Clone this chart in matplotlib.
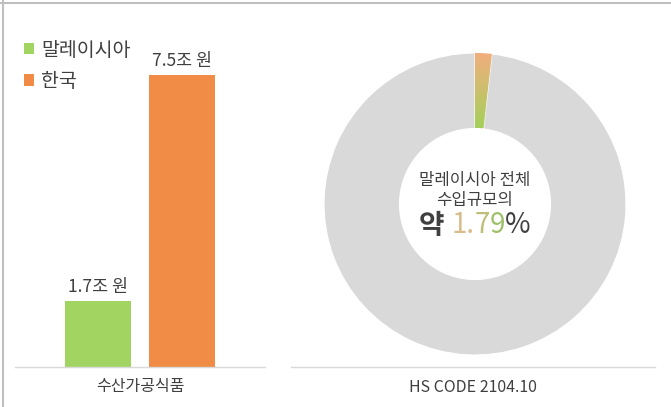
import numpy as np
import matplotlib.pyplot as plt
from matplotlib.colors import LinearSegmentedColormap
from matplotlib.lines import Line2D

plt.rcParams['font.family'] = ['Noto Sans CJK KR', 'DejaVu Sans']

# ---- data ----
series = ['말레이시아', '한국']
category = '수산가공식품'
values = [1.7, 7.5]            # 조 원
value_labels = ['1.7조 원', '7.5조 원']
share = 1.79                    # % of malaysia total imports
donut_label = 'HS CODE 2104.10'

green = '#A2D462'
orange = '#F08C45'
grey_ring = '#D9D9D9'
txt = '#404040'

W, H = 671, 407
fig = plt.figure(figsize=(W / 100, H / 100), dpi=100)

def fx(px):
    return px / W

def fy(py):
    return 1 - py / H

# frame lines (top + left)
fig.add_artist(Line2D([0, 1], [fy(3), fy(3)], color='#BFBFBF', lw=1.5))
fig.add_artist(Line2D([fx(3), fx(3)], [0, 1], color='#BFBFBF', lw=1.5))

# ---- bar panel ----
base_px = 367
ax_h = 292 * 8 / 7.5
ax = fig.add_axes([fx(15), fy(base_px), fx(250), ax_h / H])
bw = 0.265
off = 0.167
bars = []
for i, (v, c) in enumerate(zip(values, [green, orange])):
    x = -off if i == 0 else off
    b = ax.bar(x, v, width=bw, color=c, label=series[i])
    bars.append(b)
    ax.text(x, v + 0.12, value_labels[i], ha='center', va='bottom',
            fontsize=12.5, color=txt)
ax.set_xlim(-0.5, 0.5)
ax.set_ylim(0, 8)
ax.set_xticks([0])
ax.set_xticklabels([category], fontsize=11.5, color=txt)
ax.tick_params(axis='x', length=0, pad=8)
ax.set_yticks([])
for s in ['top', 'left', 'right']:
    ax.spines[s].set_visible(False)
ax.spines['bottom'].set_color(grey_ring)
ax.spines['bottom'].set_linewidth(1)

fig.legend(handles=[bars[0], bars[1]], labels=series,
           loc='upper left', bbox_to_anchor=(fx(6), fy(22)),
           frameon=False, handlelength=0.55, handleheight=0.55,
           handletextpad=0.35, labelspacing=0.55, labelcolor=txt,
           prop={'size': 14, 'weight': 'medium'})

# ---- donut panel ----
cx, cy, r = 475, 204, 151
half = 160
ax2 = fig.add_axes([fx(cx - half), fy(cy + half), fx(2 * half), 2 * half / H])
wedges, _ = ax2.pie([share, 100 - share], radius=1, startangle=90,
                    counterclock=False, colors=[orange, grey_ring],
                    wedgeprops=dict(width=0.5, edgecolor='white', linewidth=0.8))
ax2.set_aspect('equal')
ax2.axis('off')

# gradient fill in the small wedge (orange top -> green bottom)
cmap = LinearSegmentedColormap.from_list('og', ['#A5D05A', '#F2AE7E'])
grad = np.linspace(0, 1, 100).reshape(-1, 1)
im = ax2.imshow(grad, cmap=cmap, origin='lower', aspect='auto',
                extent=[-0.05, 0.2, 0.5, 1.0], zorder=3)
im.set_clip_path(wedges[0])
ax2.set_xlim(-half / r, half / r)
ax2.set_ylim(-half / r, half / r)

ax2.text(0, (cy - 180) / r, '말레이시아 전체', ha='center', va='center',
         fontsize=12, color=txt)
ax2.text(0, (cy - 200) / r, '수입규모의', ha='center', va='center',
         fontsize=12, color=txt)

# "약 1.79%" with gradient-ish digits
parts = [('약 ', txt), ('1.', '#D9BC8C'), ('7', '#BDBE78'), ('9', '#9FC06A'), ('%', txt)]
y_big = (cy - 226) / r
t0 = ax2.text(0, y_big, parts[0][0], ha='left', va='center', fontsize=20,
              color=parts[0][1], fontweight='bold')
pieces = [t0]
prev = t0
for s, c in parts[1:]:
    t = ax2.annotate(s, xy=(1, 0), xycoords=prev, ha='left', va='bottom',
                     fontsize=20, color=c)
    pieces.append(t)
    prev = t
fig.canvas.draw()
rend = fig.canvas.get_renderer()
x0 = pieces[0].get_window_extent(rend).x0
x1 = pieces[-1].get_window_extent(rend).x1
wdata = (x1 - x0) / (ax2.transData.transform((1, 0))[0] - ax2.transData.transform((0, 0))[0])
t0.set_x(-wdata / 2)

fig.add_artist(Line2D([fx(291), fx(655)], [fy(base_px), fy(base_px)],
                      color=grey_ring, lw=1))
fig.text(fx(473), fy(387), donut_label, ha='center', va='center',
         fontsize=11.5, color=txt)

fig.savefig('out.png', dpi=100)
